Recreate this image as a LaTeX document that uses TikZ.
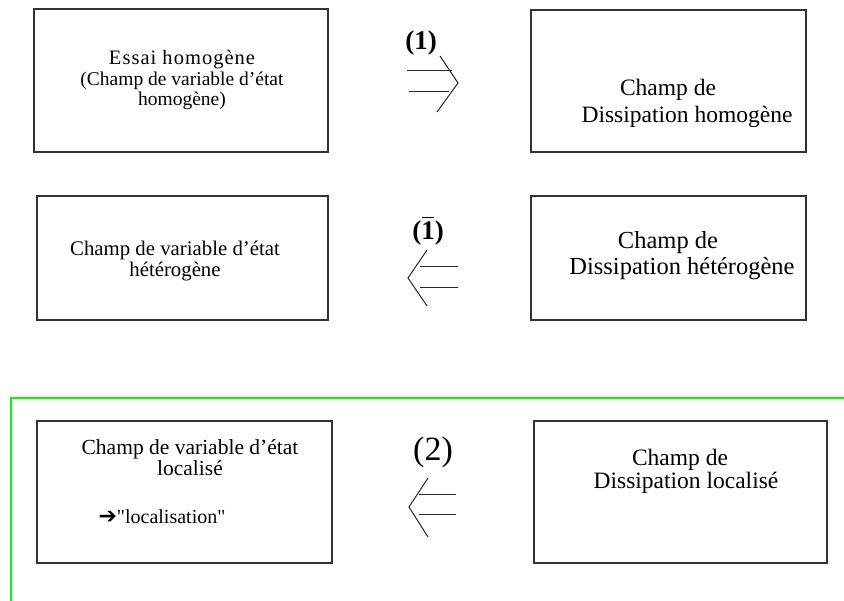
\documentclass[tikz,border=0pt]{standalone}
\usepackage{fontspec}
\setmainfont{Liberation Serif}
\newfontfamily\symfont{DejaVu Sans}
\newfontfamily\rawserif[Ligatures=TeXOff]{Liberation Serif}
\begin{document}
\begin{tikzpicture}[x=1pt,y=-1pt,
  boxnode/.style={draw=black!80,line width=1.3pt,inner sep=0pt},
  lefttext/.style={align=center,font=\fontsize{20}{20}\selectfont,inner sep=0pt},
  righttext/.style={align=center,font=\fontsize{23.5}{27}\selectfont,inner sep=0pt},
  implline/.style={line width=1pt,black!85},
  greenline/.style={line width=2.5pt,color={rgb,255:red,0;green,255;blue,0}}]
\useasboundingbox (0,0) rectangle (844,601);
% boxes
\node[boxnode,minimum width=294pt,minimum height=143pt] (b1l) at (181,80.5) {};
\node[boxnode,minimum width=275pt,minimum height=142pt] (b1r) at (668.5,81) {};
\node[boxnode,minimum width=291pt,minimum height=124pt] (b2l) at (182.5,258) {};
\node[boxnode,minimum width=275pt,minimum height=124pt] (b2r) at (668.5,258) {};
\node[boxnode,minimum width=295pt,minimum height=142pt] (b3l) at (184.5,492) {};
\node[boxnode,minimum width=293pt,minimum height=142pt] (b3r) at (680.5,492) {};
% texts
\node[lefttext,font=\fontsize{19.5}{20.5}\selectfont] (t1l) at (182,80) {{\fontsize{20.5}{20.5}\selectfont\addfontfeature{LetterSpace=5}Essai homogène}\\(Champ de variable d’état\\homogène)};
\node[righttext] (t1r) at (687,103) {Champ de\hspace*{38pt}\\Dissipation homogène};
\node[lefttext,font=\fontsize{20.8}{21}\selectfont] (t2l) at (175,261) {Champ de variable d’état\\hétérogène};
\node[righttext,font=\fontsize{24.5}{26}\selectfont] (t2r) at (682,256) {Champ de\hspace*{28pt}\\Dissipation hétérogène};
\node[lefttext,font=\fontsize{21.5}{21}\selectfont] (t3l) at (190,458) {Champ de variable d’état\\localisé};
\node[lefttext,anchor=center] (t3q) at (162,517) {{\symfont\bfseries\fontsize{22}{22}\selectfont ➔}{\rawserif "localisation"}};
\node[righttext,font=\fontsize{23.5}{23}\selectfont] (t3r) at (686,471) {Champ de\hspace*{12pt}\\Dissipation localisé};
% labels
\node[font=\fontsize{27}{27}\selectfont\bfseries,inner sep=0pt] (l1) at (421,43) {(1)};
\node[font=\fontsize{27}{27}\selectfont\bfseries,inner sep=0pt] (l2) at (428,231) {(\rlap{\hspace{0.5pt}\rule[21pt]{12.5pt}{1.6pt}}1)};
\node[font=\fontsize{34}{34}\selectfont,inner sep=0pt] (l3) at (433,452) {(2)};
% implication arrows
\coordinate (a1t) at (440,56); \coordinate (a1p) at (458,83); \coordinate (a1b) at (437,112);
\draw[implline] (407,71) -- (452,71);
\draw[implline] (409,92) -- (449,92);
\draw[implline] (a1t) -- (a1p) -- (a1b);
\coordinate (a2t) at (427,250); \coordinate (a2p) at (408,278); \coordinate (a2b) at (427,306);
\draw[implline] (420,267) -- (458,267);
\draw[implline] (420,288) -- (458,288);
\draw[implline] (a2t) -- (a2p) -- (a2b);
\coordinate (a3t) at (428,478); \coordinate (a3p) at (409,507); \coordinate (a3b) at (428,537);
\draw[implline] (419,495) -- (456,495);
\draw[implline] (419,515) -- (456,515);
\draw[implline] (a3t) -- (a3p) -- (a3b);
% green frame
\coordinate (g1) at (844,398); \coordinate (g2) at (11,398); \coordinate (g3) at (11,601);
\draw[greenline] (g1) -- (g2) -- (g3);
\end{tikzpicture}
\end{document}
